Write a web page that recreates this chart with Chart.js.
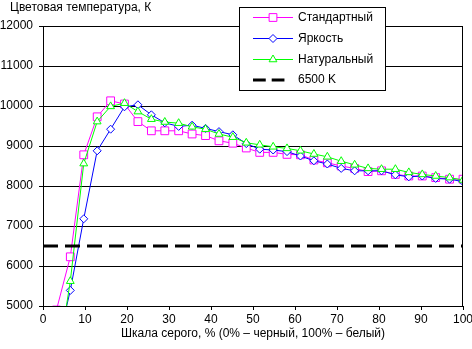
<!DOCTYPE html>
<html lang="ru">
<head>
<meta charset="UTF-8">
<title>Цветовая температура</title>
<script src="https://cdn.jsdelivr.net/npm/chart.js@4.4.1/dist/chart.umd.min.js"></script>
<style>
  html, body { margin: 0; padding: 0; background: #fff; }
</style>
</head>
<body>
<canvas id="grafico" width="472" height="349"></canvas>
<script>
// шкала серого, % (точки измерений)
const grayLevels = [3.2, 6.5, 9.7, 12.9, 16.1, 19.4, 22.6, 25.8, 29.0, 32.3, 35.5, 38.7, 41.9, 45.2, 48.4,
                    51.6, 54.8, 58.1, 61.3, 64.5, 67.7, 71.0, 74.2, 77.4, 80.6, 83.9, 87.1, 90.3, 93.5, 96.8, 100];

const seriesNames = ['Стандартный', 'Яркость', 'Натуральный', '6500 K'];

const standard = [4900, 6230, 8780, 9730, 10130, 10050, 9610, 9380, 9380, 9380, 9300, 9260, 9130, 9070, 8950,
                  8840, 8840, 8790, 8780, 8650, 8580, 8500, 8440, 8360, 8380, 8290, 8250, 8250, 8210, 8170, 8170];
const brightness = [3900, 5390, 7180, 8880, 9420, 9980, 10030, 9780, 9580, 9490, 9520, 9440, 9360, 9280, 9060,
                    8920, 8900, 8860, 8750, 8630, 8550, 8440, 8380, 8380, 8380, 8280, 8230, 8250, 8190, 8170, 8110];
const natural = [3400, 5620, 8560, 9610, 9990, 10070, 9860, 9670, 9600, 9570, 9480, 9420, 9300, 9220, 9080,
                 9030, 8980, 8940, 8880, 8800, 8730, 8620, 8530, 8440, 8420, 8420, 8340, 8290, 8250, 8210, 8150];
const reference = 6500;

const xTicks = [0, 100, 10];          // min, max, шаг
const yTicks = [5000, 12000, 1000];

const FONT = { family: "'Liberation Sans', Arial, sans-serif", size: 12 };

function pts(values) {
    return grayLevels.map((g, i) => ({ x: g, y: values[i] }));
}

const datasets = [
    { label: seriesNames[0], data: pts(standard), borderColor: '#ff00ff', backgroundColor: '#ffffff',
      pointStyle: 'rect', pointRadius: 5.5, order: 3 },
    { label: seriesNames[1], data: pts(brightness), borderColor: '#0000ff', backgroundColor: '#ffffff',
      pointStyle: 'rectRot', pointRadius: 4, order: 2 },
    { label: seriesNames[2], data: pts(natural), borderColor: '#00ff00', backgroundColor: '#ffffff',
      pointStyle: 'triangle', pointRadius: 4.5, order: 1 },
    { label: seriesNames[3], data: [{ x: xTicks[0], y: reference }, { x: xTicks[1], y: reference }],
      borderColor: '#000000', borderWidth: 3, borderDash: [15, 7], pointRadius: 0, order: 0 }
];
datasets.forEach(d => {
    if (d.borderWidth === undefined) d.borderWidth = 1;
    d.pointBorderWidth = 1;
    d.tension = 0;
});

// подписи, рамка справа и легенда рисуем сами
const decor = {
    id: 'decor',
    afterDraw(chart) {
        const ctx = chart.ctx;
        const a = chart.chartArea;
        ctx.save();
        // правая граница области построения
        ctx.strokeStyle = '#000';
        ctx.lineWidth = 1;
        ctx.beginPath();
        const rx = Math.round(a.right) - 0.5;
        ctx.moveTo(rx, a.top);
        ctx.lineTo(rx, a.bottom);
        ctx.stroke();

        ctx.font = FONT.size + 'px ' + FONT.family;
        ctx.fillStyle = '#000';
        ctx.textBaseline = 'middle';
        ctx.textAlign = 'left';
        ctx.fillText('Цветовая температура, К', 10, 8);

        // легенда
        const bx = 239.5, by = 7.5, bw = 146, bh = 83;
        ctx.fillStyle = '#fff';
        ctx.fillRect(bx, by, bw, bh);
        ctx.strokeStyle = '#000';
        ctx.strokeRect(bx, by, bw, bh);
        const rows = [17.5, 38.5, 59.5, 80];
        chart.data.datasets.forEach((ds, i) => {
            const y = rows[i];
            ctx.save();
            ctx.strokeStyle = ds.borderColor;
            ctx.lineWidth = ds.borderWidth;
            if (ds.borderDash) ctx.setLineDash(ds.borderDash.map(v => v * 0.85));
            ctx.beginPath();
            ctx.moveTo(253, y);
            ctx.lineTo(ds.pointRadius ? 293 : 288, y);
            ctx.stroke();
            ctx.setLineDash([]);
            if (ds.pointRadius) {
                ctx.fillStyle = '#fff';
                ctx.strokeStyle = ds.borderColor;
                ctx.lineWidth = 1;
                Chart.helpers.drawPoint(ctx, { pointStyle: ds.pointStyle, radius: ds.pointRadius,
                    rotation: 0, borderWidth: 1 }, 273, y);
            }
            ctx.restore();
            ctx.fillStyle = '#000';
            ctx.fillText(ds.label, 298, y);
        });
        ctx.restore();
    }
};

new Chart(document.getElementById('grafico'), {
    type: 'line',
    data: { datasets: datasets },
    options: {
        responsive: false,
        animation: false,
        events: [],
        layout: { padding: { top: 26, right: 9, left: 0, bottom: 0 } },
        plugins: { legend: { display: false }, tooltip: { enabled: false } },
        scales: {
            x: {
                type: 'linear',
                min: xTicks[0], max: xTicks[1],
                ticks: { stepSize: xTicks[2], color: '#000', font: FONT, padding: 2, maxRotation: 0 },
                grid: { drawOnChartArea: false, color: '#000', tickLength: 4 },
                border: { color: '#000', width: 1 },
                title: { display: true, text: 'Шкала серого, % (0% – черный, 100% – белый)',
                         color: '#000', font: FONT, padding: { top: 0, bottom: 8 } },
                afterFit(scale) {
                    scale.height = 43;
                    scale.paddingLeft = 0;
                    scale.paddingRight = 0;
                }
            },
            y: {
                min: yTicks[0], max: yTicks[1],
                ticks: { stepSize: yTicks[2], color: '#000', font: FONT, padding: 6,
                         callback: v => String(v) },
                grid: { color: '#000', tickLength: 4 },
                border: { color: '#000', width: 1 },
                afterFit(scale) { scale.width = 43; }
            }
        }
    },
    plugins: [decor]
});
</script>
</body>
</html>
